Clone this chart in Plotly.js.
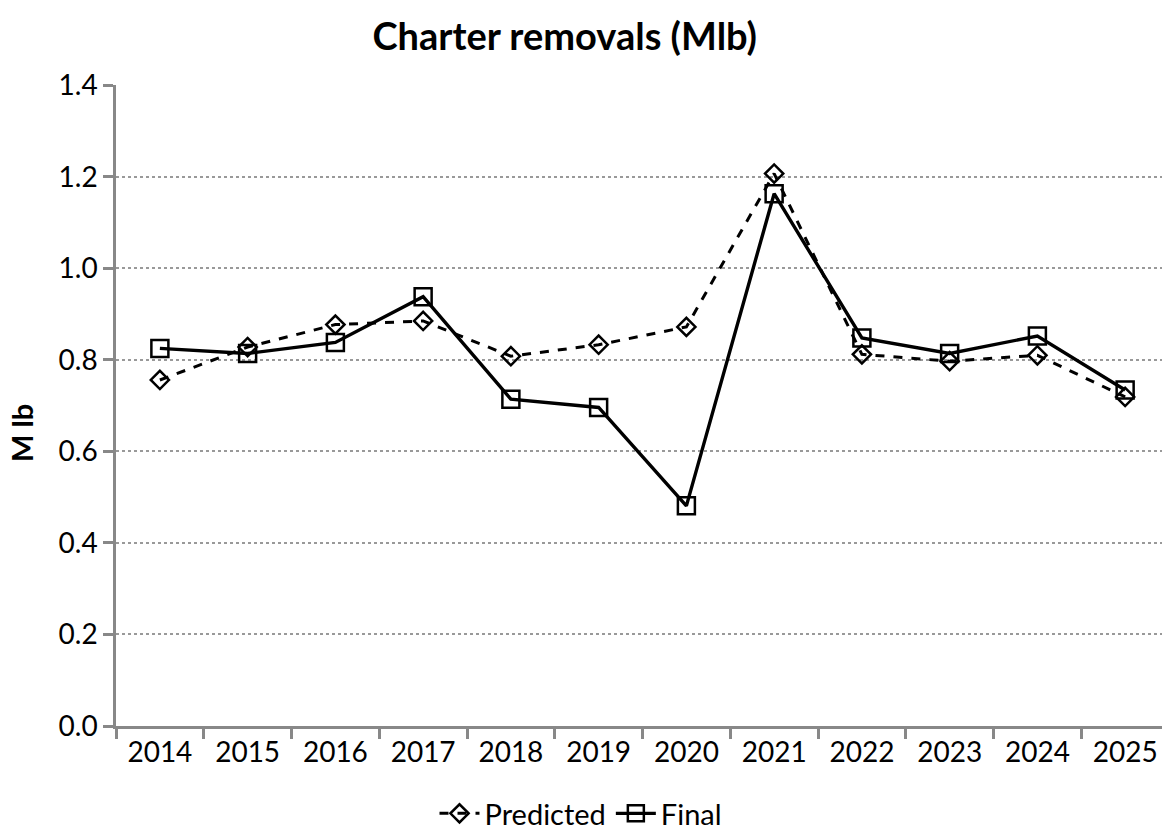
<!DOCTYPE html>
<html>
<head>
<meta charset="utf-8">
<script src="https://cdn.plot.ly/plotly-3.0.1.min.js"></script>
<style>html,body{margin:0;padding:0;background:#fff;}#chart{width:1162px;height:839px;}</style>
</head>
<body>
<div id="chart"></div>
<script>
const years = ['2014','2015','2016','2017','2018','2019','2020','2021','2022','2023','2024','2025'];
const predicted = [0.756, 0.828, 0.877, 0.885, 0.808, 0.833, 0.872, 1.207, 0.812, 0.797, 0.810, 0.719];
const finalVals = [0.825, 0.814, 0.838, 0.938, 0.714, 0.696, 0.481, 1.163, 0.848, 0.814, 0.852, 0.734];
const yTicks = [0, 0.2, 0.4, 0.6, 0.8, 1.0, 1.2, 1.4];
const yTickLabels = ['0.0','0.2','0.4','0.6','0.8','1.0','1.2','1.4'];

const FONT = 'Lato, "Open Sans", sans-serif';
const traces = [
  {x: years, y: predicted, name: 'Predicted', type: 'scatter', mode: 'lines+markers',
   line: {color: '#000', width: 3, dash: 'dash'},
   marker: {symbol: 'diamond-open', size: 14, color: '#000', line: {width: 2.5, color: '#000'}}},
  {x: years, y: finalVals, name: 'Final', type: 'scatter', mode: 'lines+markers',
   line: {color: '#000', width: 3.4},
   marker: {symbol: 'square-open', size: 17, color: '#000', line: {width: 2.5, color: '#000'}}}
];
const layout = {
  width: 1162, height: 839,
  margin: {l: 116, r: 0, t: 85, b: 113},
  paper_bgcolor: '#fff', plot_bgcolor: '#fff',
  font: {family: FONT, color: '#000', size: 28},
  title: {text: '<b>Charter removals (Mlb)</b>', x: 0.486, xref: 'container', xanchor: 'center',
          y: 1 - 37 / 839, yref: 'container', yanchor: 'middle',
          font: {family: FONT, size: 38, color: '#000'}},
  xaxis: {type: 'category', range: [-0.5, 11.42], tickson: 'boundaries', ticks: 'outside', ticklen: 10, tickwidth: 2.5,
          tickcolor: '#888', showline: true, linecolor: '#888', linewidth: 2.5, showgrid: false, zeroline: false,
          tickfont: {family: FONT, size: 28, color: '#000'}},
  yaxis: {range: [0, 1.4005], tickvals: yTicks, ticktext: yTickLabels, ticks: 'outside', ticklen: 10, tickwidth: 2.5,
          tickcolor: '#888', showline: true, linecolor: '#888', linewidth: 2.5, showgrid: true, gridcolor: '#999',
          griddash: 'dot', gridwidth: 1.5, zeroline: false,
          tickfont: {family: FONT, size: 28, color: '#000'}},
  annotations: [{text: '<b>M lb</b>', textangle: -90, xref: 'paper', yref: 'paper',
                 x: -(116 - 22) / 1046, y: (726 - 433) / 641, xanchor: 'center', yanchor: 'middle',
                 showarrow: false, font: {family: FONT, size: 29, color: '#000'}}],
  legend: {orientation: 'h', x: 0.5, xanchor: 'center', xref: 'container', y: -0.008, yref: 'container', yanchor: 'bottom',
           font: {family: FONT, size: 29, color: '#000'}, itemwidth: 40},
  showlegend: true
};
Plotly.newPlot('chart', traces, layout, {displayModeBar: false});
</script>
</body>
</html>
